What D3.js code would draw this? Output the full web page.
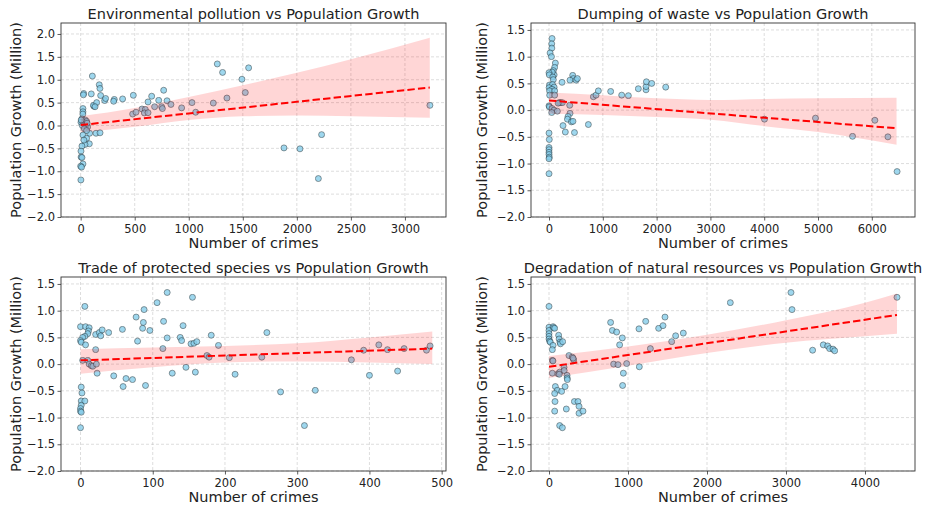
<!DOCTYPE html>
<html>
<head>
<meta charset="utf-8">
<script src="https://cdn.jsdelivr.net/npm/d3@7"></script>
<style>
  body { margin: 0; background: #fff; }
  svg { display: block; font-family: "DejaVu Sans", sans-serif; }
</style>
</head>
<body>
<svg id="chart" width="926" height="508"></svg>
<script>
// ---- data ----
const titles = [
  "Environmental pollution vs Population Growth",
  "Dumping of waste vs Population Growth",
  "Trade of protected species vs Population Growth",
  "Degradation of natural resources vs Population Growth"
];

const envX = [108,28,25,98,172,178,185,123,118,148,222,231,311,305,388,487,481,512,567,598,589,623,623,657,684,722,749,756,768,799,835,934,1030,1064,1227,1264,1313,1353,1492,1523,1554,
  83,142,179,80,40,12,3,4,12,21,0,8,2,
  21,21,20,12,43,3,15,37,55,52,65,34,55,21,55,30,133,5,60,
  3231,1881,2029,2199,2229];
const envY = [1.08,0.70,0.67,0.69,0.89,0.81,0.655,0.42,0.44,0.50,0.545,0.59,0.57,0.53,0.58,0.66,0.25,0.29,0.36,0.35,0.275,0.28,0.515,0.64,0.41,0.55,0.41,0.37,0.77,0.54,0.46,0.385,0.50,0.29,0.49,1.345,1.16,0.60,1.01,0.72,1.26,
  -0.17,-0.17,-0.16,-0.40,-0.415,-0.45,-0.56,-0.69,-0.70,-0.84,-0.89,-0.91,-1.19,
  0.37,0.30,0.25,0.145,0.12,0.07,0.0,0.07,0.09,0.0,-0.03,-0.07,-0.11,-0.21,-0.28,-0.32,0.41,0.12,0.05,
  0.44,-0.49,-0.51,-1.16,-0.20];

const wasteX = [56,50,52,20,45,118,105,80,95,60,0,5,70,80,10,65,95,2,55,10,105,12,105,0,8,56,95,155,50,
  0,5,0,0,0,0,5,0,0,
  242,192,215,248,170,385,390,354,342,260,303,415,445,473,440,452,390,502,527,731,824,874,917,1146,1351,1475,1660,1803,1803,1810,1909,2169,
  4005,4953,5642,6057,6299,6470];
const wasteY = [1.34,1.24,1.16,1.07,1.0,0.88,0.80,0.74,0.66,0.71,0.70,0.66,0.62,0.57,0.47,0.48,0.43,0.42,0.39,0.36,0.36,0.28,0.28,0.08,0.06,0.03,0.0,-0.02,-0.045,
  -0.43,-0.55,-0.70,-0.74,-0.79,-0.83,-0.88,-0.91,-1.19,
  0.52,0.14,0.14,0.14,0.13,0.09,-0.06,-0.12,-0.17,-0.29,-0.41,-0.22,-0.21,-0.42,0.65,0.59,0.56,0.56,0.59,-0.27,0.25,0.28,0.36,0.35,0.28,0.27,0.40,0.38,0.44,0.53,0.50,0.43,
  -0.17,-0.15,-0.49,-0.19,-0.50,-1.15];

const tradeX = [6,0,7,12,11,10,6,3,0,1,7,21,26,28,30,21,39,3,10,12,15,17,22,23,46,58,59,63,72,77,79,86,87,88,90,96,106,115,114,120,120,127,138,140,142,146,153,157,155,159,161,175,178,181,191,206,214,251,258,277,310,325,375,392,400,413,425,439,448,479,484,
  1,2,1,6,1,0,0,1,0];
const tradeY = [1.08,0.70,0.70,0.68,0.62,0.57,0.52,0.50,0.44,0.41,0.36,0.555,0.59,0.53,0.64,0.27,0.59,0.07,0.07,0.0,-0.03,-0.04,0.0,-0.17,-0.22,0.65,-0.42,-0.27,-0.29,0.88,0.43,0.67,0.78,1.02,-0.40,0.63,1.15,0.80,0.29,1.34,0.49,-0.17,0.50,0.44,0.72,-0.06,0.38,0.39,1.25,-0.15,0.42,0.16,0.13,0.54,0.35,0.12,-0.19,0.13,0.59,-0.52,-1.15,-0.49,0.08,0.26,-0.21,0.36,0.27,-0.13,0.29,0.26,0.34,
  -0.43,-0.54,-0.69,-0.69,-0.77,-0.83,-0.88,-0.90,-1.19];

const degradX = [0,0,51,0,0,0,0,8,17,59,72,51,42,42,50,42,114,122,128,139,145,173,135,130,80,105,72,160,76,72,135,169,219,203,190,192,228,230,232,253,295,312,305,321,367,380,380,430,
  780,802,818,856,873,894,928,941,932,983,1139,1143,1224,1283,1388,1443,1468,1553,1603,1700,2295,3063,3076,3337,3472,3527,3552,3595,3616,4405];
const degradY = [1.08,0.69,0.70,0.63,0.57,0.52,0.47,0.43,0.41,0.68,0.67,0.35,0.27,0.07,0.06,-0.17,-0.18,0.54,0.47,0.41,0.38,0.42,-0.15,-0.19,-0.42,-0.49,-0.55,-0.51,-0.70,-0.88,-1.15,-1.19,-0.84,-0.42,-0.06,-0.12,-0.21,-0.26,-0.29,0.16,0.13,0.08,0.11,-0.70,-0.70,-0.79,-0.92,-0.88,
  0.78,0.63,0.0,0.60,-0.01,0.36,0.49,-0.17,-0.40,0.01,0.66,-0.05,0.80,0.29,0.67,0.72,0.88,0.42,0.53,0.58,1.15,1.34,1.02,0.26,0.36,0.34,0.29,0.28,0.25,1.25];

// fitted regression lines (end points) and confidence bands
const fitX = [[0, 3230], [0, 6460], [0, 487], [0, 4405]];
const fitY = [[0.01, 0.83], [0.18, -0.34], [0.07, 0.29], [-0.05, 0.92]];

const bandX = [
  [0, 500, 1000, 1500, 2000, 2500, 3230],
  [0, 1000, 2000, 3000, 4000, 5000, 6460],
  [0, 100, 200, 300, 400, 487],
  [0, 1000, 2000, 3000, 4000, 4405]
];
const bandLow = [
  [-0.15, -0.03, 0.12, 0.2, 0.22, 0.2, 0.17],
  [-0.07, -0.09, -0.13, -0.18, -0.30, -0.41, -0.65],
  [-0.18, -0.06, 0.03, 0.05, 0.03, 0.0],
  [-0.26, -0.03, 0.21, 0.40, 0.52, 0.57]
];
const bandHigh = [
  [0.20, 0.38, 0.62, 0.88, 1.15, 1.45, 1.92],
  [0.33, 0.28, 0.22, 0.19, 0.21, 0.22, 0.23],
  [0.28, 0.31, 0.34, 0.39, 0.5, 0.61],
  [0.15, 0.33, 0.55, 0.82, 1.15, 1.32]
];

// axis limits and ticks
const xLimits = [[-182, 3380], [-335, 6803], [-27, 506], [-228, 4633]];
const yLimits = [[-2, 2.24], [-2, 1.63], [-2, 1.63], [-2, 1.63]];
const xTicks = [
  [0, 500, 1000, 1500, 2000, 2500, 3000],
  [0, 1000, 2000, 3000, 4000, 5000, 6000],
  [0, 100, 200, 300, 400, 500],
  [0, 1000, 2000, 3000, 4000]
];
const yTicks = [
  [-2, -1.5, -1, -0.5, 0, 0.5, 1, 1.5, 2],
  [-2, -1.5, -1, -0.5, 0, 0.5, 1, 1.5],
  [-2, -1.5, -1, -0.5, 0, 0.5, 1, 1.5],
  [-2, -1.5, -1, -0.5, 0, 0.5, 1, 1.5]
];

const xs = [envX, wasteX, tradeX, degradX];
const ys = [envY, wasteY, tradeY, degradY];

// ---- layout ----
const boxes = [
  { left: 61, right: 446, top: 23, bottom: 217, ylab: 15.5 },
  { left: 531, right: 915, top: 23, bottom: 217, ylab: 482 },
  { left: 61, right: 446, top: 277, bottom: 471, ylab: 15.5 },
  { left: 531, right: 915, top: 277, bottom: 471, ylab: 482 }
];

const svg = d3.select("#chart");
const textColor = "#222";
const fmt = d3.format(".1f");

boxes.forEach((b, i) => {
  const x = d3.scaleLinear().domain(xLimits[i]).range([b.left, b.right]);
  const y = d3.scaleLinear().domain(yLimits[i]).range([b.bottom, b.top]);
  const g = svg.append("g");

  // grid
  g.append("g")
    .selectAll("line")
    .data(xTicks[i])
    .join("line")
    .attr("x1", (d) => x(d)).attr("x2", (d) => x(d))
    .attr("y1", b.top).attr("y2", b.bottom)
    .attr("stroke", "#b0b0b0").attr("stroke-opacity", 0.55)
    .attr("stroke-width", 0.8).attr("stroke-dasharray", "3,2");
  g.append("g")
    .selectAll("line")
    .data(yTicks[i])
    .join("line")
    .attr("x1", b.left).attr("x2", b.right)
    .attr("y1", (d) => y(d)).attr("y2", (d) => y(d))
    .attr("stroke", "#b0b0b0").attr("stroke-opacity", 0.55)
    .attr("stroke-width", 0.8).attr("stroke-dasharray", "3,2");

  // points
  const pts = xs[i].map((v, k) => [v, ys[i][k]]);
  g.append("g")
    .selectAll("circle")
    .data(pts)
    .join("circle")
    .attr("cx", (d) => x(d[0]))
    .attr("cy", (d) => y(d[1]))
    .attr("r", 3)
    .attr("fill", "#87ceeb")
    .attr("stroke", "#1f2d33")
    .attr("stroke-width", 0.6)
    .attr("opacity", 0.8);

  // confidence band
  const band = bandX[i].map((v, k) => [v, bandLow[i][k], bandHigh[i][k]]);
  g.append("path")
    .datum(band)
    .attr("d", d3.area().x((d) => x(d[0])).y0((d) => y(d[1])).y1((d) => y(d[2])).curve(d3.curveMonotoneX))
    .attr("fill", "red")
    .attr("fill-opacity", 0.16);

  // regression line
  g.append("path")
    .datum(fitX[i].map((v, k) => [v, fitY[i][k]]))
    .attr("d", d3.line().x((d) => x(d[0])).y((d) => y(d[1])))
    .attr("fill", "none")
    .attr("stroke", "red")
    .attr("stroke-width", 2)
    .attr("stroke-dasharray", "7.4,3.2");

  // axes
  const ax = g.append("g")
    .attr("transform", `translate(0,${b.bottom})`)
    .call(d3.axisBottom(x).tickValues(xTicks[i]).tickFormat(d3.format("d")).tickSize(3.5).tickPadding(4.5));
  const ay = g.append("g")
    .attr("transform", `translate(${b.left},0)`)
    .call(d3.axisLeft(y).tickValues(yTicks[i]).tickFormat(fmt).tickSize(3.5).tickPadding(2.5));
  [ax, ay].forEach((a) => {
    a.select(".domain").remove();
    a.selectAll("line").attr("stroke", "#333").attr("stroke-width", 0.8);
    a.selectAll("text").attr("fill", textColor).style("font-size", "11.5px")
      .style("font-family", "'DejaVu Sans', sans-serif");
  });

  // frame
  g.append("rect")
    .attr("x", b.left).attr("y", b.top)
    .attr("width", b.right - b.left).attr("height", b.bottom - b.top)
    .attr("fill", "none").attr("stroke", "#333").attr("stroke-width", 0.9);

  // texts
  g.append("text")
    .attr("x", (b.left + b.right) / 2).attr("y", b.top - 4)
    .attr("text-anchor", "middle").attr("fill", textColor)
    .style("font-size", "14.5px")
    .text(titles[i]);
  g.append("text")
    .attr("x", (b.left + b.right) / 2).attr("y", b.bottom + 30.5)
    .attr("text-anchor", "middle").attr("fill", textColor)
    .style("font-size", "14.5px")
    .text("Number of crimes");
  g.append("text")
    .attr("transform", `translate(${b.ylab},${(b.top + b.bottom) / 2}) rotate(-90)`)
    .attr("dy", "0.35em")
    .attr("text-anchor", "middle").attr("fill", textColor)
    .style("font-size", "14.5px")
    .text("Population Growth (Million)");
});
</script>
</body>
</html>
